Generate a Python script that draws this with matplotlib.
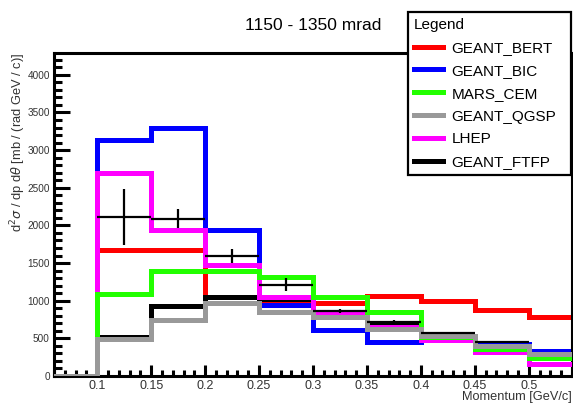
import matplotlib
matplotlib.use('Agg')
import matplotlib.pyplot as plt
from matplotlib.lines import Line2D
from matplotlib.ticker import MultipleLocator

plt.rcParams['font.family'] = ['Liberation Sans', 'DejaVu Sans']

# ---------------- data ----------------
edges = [0.05, 0.1, 0.15, 0.2, 0.25, 0.3, 0.35, 0.4, 0.45, 0.5, 0.55]

geant_bert = [0, 1670, 1670, 1050, 1000, 970, 1060, 990, 880, 780]
geant_bic = [0, 3135, 3290, 1940, 940, 610, 450, 480, 420, 335]
mars_cem = [0, 1090, 1395, 1395, 1315, 1050, 850, 520, 360, 240]
geant_qgsp = [0, 490, 745, 970, 855, 785, 625, 530, 400, 290]
lhep = [0, 2695, 1940, 1480, 1050, 825, 650, 480, 320, 160]
geant_ftfp = [0, 515, 930, 1050, 1020, 800, 690, 520, 390, 280]

data_x = [0.125, 0.175, 0.225, 0.275, 0.325, 0.375, 0.425, 0.475]
data_y = [2110, 2090, 1590, 1210, 865, 715, 570, 455]
data_yerr = [375, 130, 95, 85, 30, 25, 10, 10]

labels = ['GEANT_BERT', 'GEANT_BIC', 'MARS_CEM', 'GEANT_QGSP', 'LHEP', 'GEANT_FTFP']
colors = ['#ff0000', '#0000ff', '#22ff00', '#999999', '#ff00ff', '#000000']
series = [geant_bert, geant_bic, mars_cem, geant_qgsp, lhep, geant_ftfp]
# draw order (bottom -> top)
zorders = [2, 2.1, 3.5, 4, 3, 2.5]

fig = plt.figure(figsize=(5.73, 4.04), dpi=100)
ax = fig.add_axes([54 / 573, 1 - 376 / 404, 518 / 573, 323 / 404])

for vals, col, z in zip(series, colors, zorders):
    ax.stairs(vals, edges, baseline=None, color=col, lw=3.6, zorder=z)

ax.errorbar(data_x, data_y, xerr=0.025, yerr=data_yerr, fmt='none',
            ecolor='black', elinewidth=1.6, capsize=0, zorder=5)

ax.set_xlim(0.06, 0.54)
ax.set_ylim(0, 4290)

ax.xaxis.set_major_locator(MultipleLocator(0.05))
ax.xaxis.set_minor_locator(MultipleLocator(0.01))
ax.yaxis.set_major_locator(MultipleLocator(500))
ax.yaxis.set_minor_locator(MultipleLocator(100))

ax.tick_params(axis='both', which='both', direction='in', width=2.2,
               top=False, right=False, colors='black', labelcolor='#333333')
ax.tick_params(axis='y', which='major', length=11.5, labelsize=7.2, pad=3)
ax.tick_params(axis='y', which='minor', length=5.5)
ax.tick_params(axis='x', which='major', length=8, labelsize=9, pad=3)
ax.tick_params(axis='x', which='minor', length=4)

ax.set_xticks([0.1, 0.15, 0.2, 0.25, 0.3, 0.35, 0.4, 0.45, 0.5])
ax.set_xticklabels(['0.1', '0.15', '0.2', '0.25', '0.3', '0.35', '0.4', '0.45', '0.5'])

for sp in ax.spines.values():
    sp.set_linewidth(2.2)

fig.text(1 - 1 / 573, 1 - 397 / 404, 'Momentum [GeV/c]', ha='right', va='center',
         fontsize=9.2, color='#333333')
fig.text(18 / 573, 1 - 53 / 404, r'd$^{2}\sigma$ / dp d$\theta$ [mb / (rad GeV / c)]',
         rotation=90, ha='center', va='top', fontsize=9.3, color='#333333')
fig.text(313 / 573, 1 - 25 / 404, '1150 - 1350 mrad', ha='center', va='center',
         fontsize=12.5)

# ---------------- legend ----------------
handles = [Line2D([], [], color=c, lw=3.6) for c in colors]
leg = fig.legend(handles, labels, title='Legend', loc='upper left',
                 bbox_to_anchor=(408 / 573, 1 - 12 / 404, 163 / 573, 0.0),
                 mode='expand', alignment='left', fontsize=11, title_fontsize=11,
                 frameon=True, fancybox=False, edgecolor='black', framealpha=1,
                 borderaxespad=0, borderpad=0.4, labelspacing=0.58,
                 handlelength=1.9, handletextpad=0.55)
leg.get_frame().set_linewidth(1.6)
leg.set_zorder(10)

fig.savefig('out.png', dpi=100)
